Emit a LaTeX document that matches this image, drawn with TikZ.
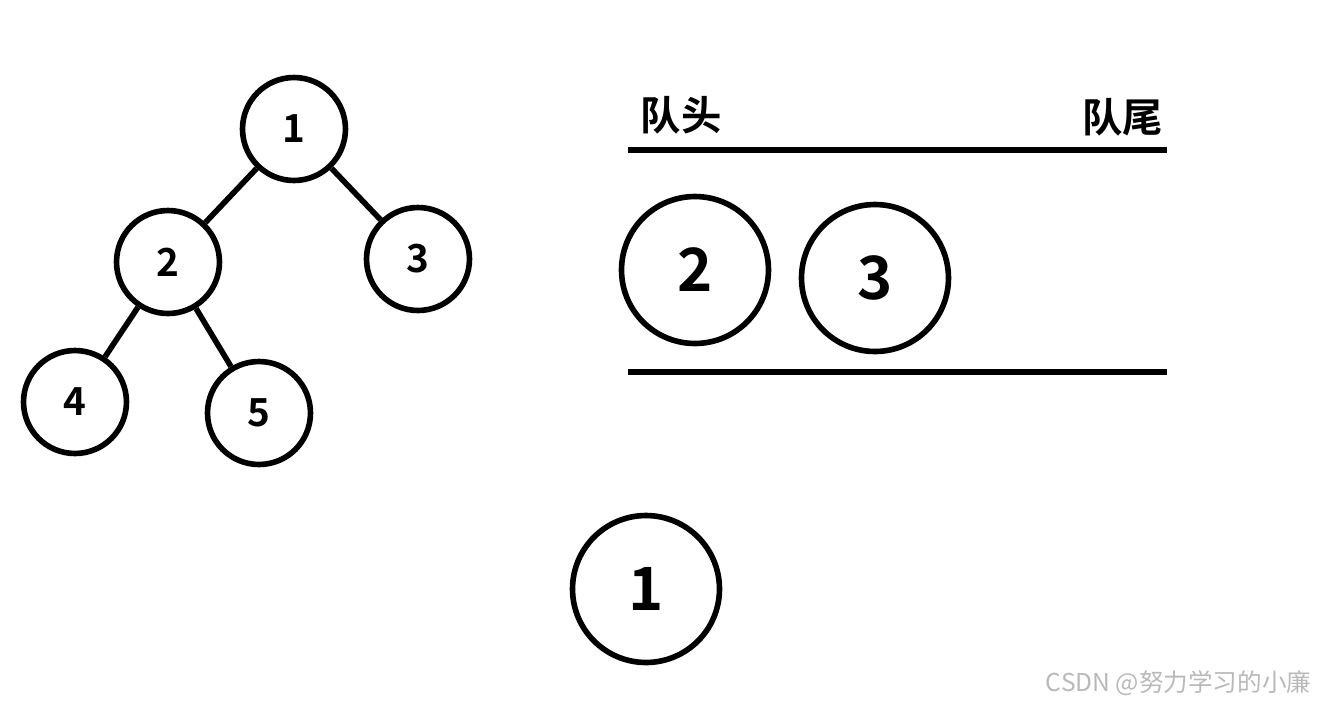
\documentclass[tikz,border=0pt]{standalone}
\usepackage{fontspec}
\setmainfont{Noto Sans CJK SC}[BoldFont={Noto Sans CJK SC Bold}]
\usetikzlibrary{positioning}

\begin{document}
\begin{tikzpicture}[x=0.02cm, y=-0.02cm, line width=3.2pt,
        tnode/.style={draw, circle, minimum size=2.06cm, inner sep=0pt, font=\fontsize{22}{22}\selectfont\bfseries},
        qnode/.style={draw, circle, minimum size=2.94cm, inner sep=0pt, font=\fontsize{34}{34}\selectfont\bfseries},
        qlabel/.style={inner sep=0pt, font=\fontsize{23}{23}\selectfont\bfseries}]
            \useasboundingbox (0,0) rectangle (1323,704);

            % tree
            \node[tnode] (n1) at (294,129) {1};
            \node[tnode] (n2) at (168,262) {2};
            \node[tnode] (n3) at (418,259) {3};
            \node[tnode] (n4) at (75,402) {4};
            \node[tnode] (n5) at (259,413) {5};
            \draw (n1) -- (n2);
            \draw (n1) -- (n3);
            \draw (n2) -- (n4);
            \draw (n2) -- (n5);

            % queue
            \node[qlabel, anchor=west] (head) at (638,115) {队头};
            \node[qlabel, anchor=east] (tail) at (1166,117) {队尾};
            \draw (628,150) -- (1167,150);
            \draw (628,372) -- (1167,372);
            \node[qnode] (q2) at (695,270) {2};
            \node[qnode] (q3) at (875,278) {3};

            % dequeued
            \node[qnode] (out1) at (646,589) {1};

            \node[anchor=east, text=gray!55, font=\fontsize{14}{14}\selectfont] (mark) at (1320,683) {CSDN @努力学习的小廉};
        \end{tikzpicture}
\end{document}
